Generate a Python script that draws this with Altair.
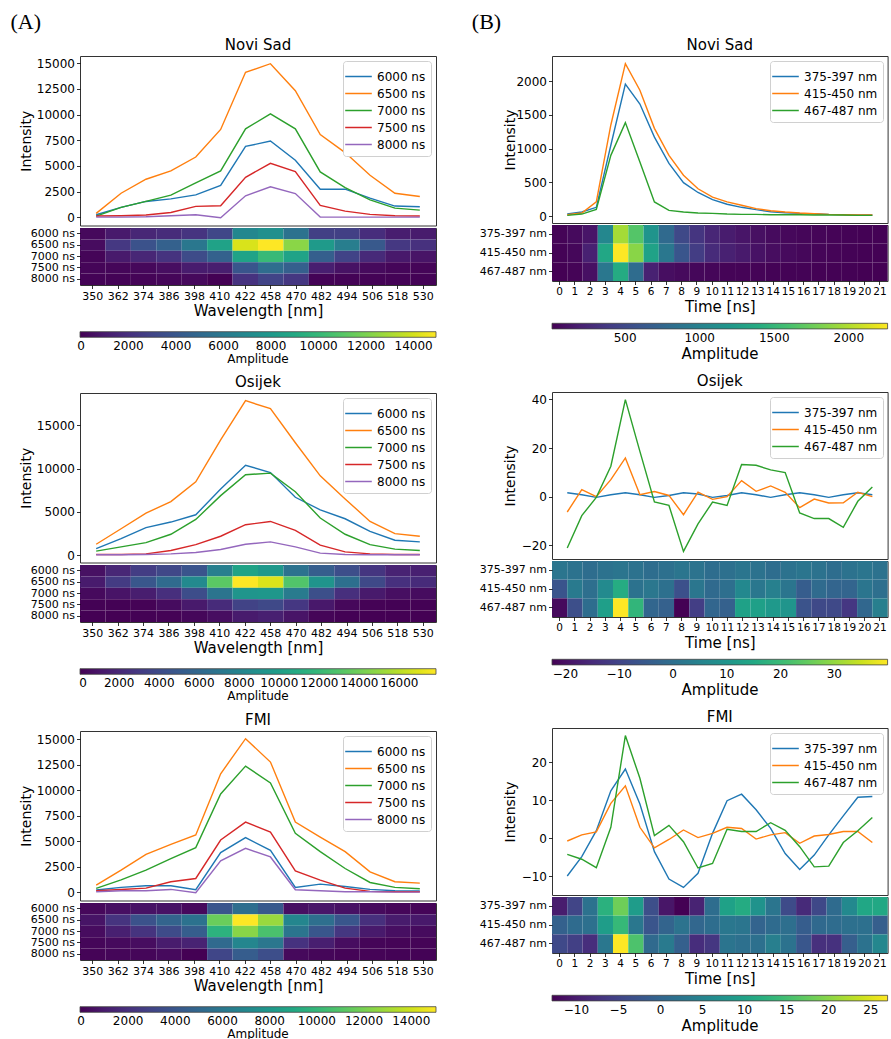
import altair as alt
import pandas as pd

# ---- axis categories -------------------------------------------------------
wavelengths = ["350", "362", "374", "386", "398", "410", "422",
               "458", "470", "482", "494", "506", "518", "530"]
delays = ["6000 ns", "6500 ns", "7000 ns", "7500 ns", "8000 ns"]
bands = ["375-397 nm", "415-450 nm", "467-487 nm"]
times = [str(t) for t in range(22)]

# ---- spectra (intensity vs wavelength) for each gate delay ----------------
novi_sad_spectra = {
    "6000 ns": [260, 970, 1550, 1800, 2190, 3100, 6900, 7420, 5550, 2740, 2740, 1870, 1100, 1030],
    "6500 ns": [390, 2350, 3710, 4520, 5870, 8550, 14100, 14940, 12320, 8060, 6300, 4100, 2350, 2030],
    "7000 ns": [130, 970, 1550, 2160, 3360, 4520, 8610, 10070, 8610, 4420, 2900, 1710, 900, 710],
    "7500 ns": [130, 160, 230, 480, 1070, 1130, 3900, 5260, 4450, 1160, 610, 290, 160, 130],
    "8000 ns": [30, 30, 60, 160, 260, -40, 2100, 2970, 2320, 30, 30, 30, 30, 30],
}
osijek_spectra = {
    "6000 ns": [760, 1910, 3170, 3820, 4660, 7630, 10380, 9540, 6680, 5230, 4200, 2750, 1720, 1530],
    "6500 ns": [1260, 3050, 4850, 6180, 8470, 13300, 17830, 16910, 12980, 9160, 6490, 3890, 2480, 2180],
    "7000 ns": [460, 950, 1450, 2410, 4120, 6870, 9280, 9470, 7330, 4280, 2410, 1220, 690, 530],
    "7500 ns": [80, 80, 150, 530, 1220, 2180, 3510, 3890, 2860, 1150, 380, 150, 80, 80],
    "8000 ns": [40, 40, 80, 150, 310, 650, 1260, 1530, 950, 230, 80, 40, 40, 40],
}
fmi_spectra = {
    "6000 ns": [230, 490, 650, 650, 260, 3900, 5360, 4120, 490, 810, 580, 290, 160, 130],
    "6500 ns": [710, 2180, 3730, 4710, 5620, 11620, 15050, 12760, 6880, 5420, 3990, 2010, 1040, 910],
    "7000 ns": [390, 1230, 2180, 3310, 4380, 9640, 12370, 10720, 5780, 3990, 2340, 970, 490, 360],
    "7500 ns": [160, 290, 420, 1040, 1360, 5130, 6880, 5910, 2110, 1200, 420, 100, 60, 60],
    "8000 ns": [60, 160, 160, 290, -40, 3090, 4320, 3470, 260, 160, 60, 60, 30, 30],
}

# ---- time traces (intensity vs time) for each wavelength band -------------
novi_sad_traces = {
    "375-397 nm": [30, 60, 130, 1050, 1955, 1660, 1170, 780, 495, 350, 245, 175, 130, 95, 65, 50, 40, 35, 25, 20, 15, 15],
    "415-450 nm": [20, 45, 210, 1350, 2260, 1865, 1300, 900, 605, 405, 280, 210, 160, 110, 80, 60, 45, 35, 25, 20, 15, 15],
    "467-487 nm": [10, 30, 100, 900, 1385, 800, 210, 85, 60, 45, 40, 30, 25, 25, 20, 20, 20, 15, 15, 15, 10, 10],
}
osijek_traces = {
    "375-397 nm": [1.6, 0.8, -0.3, 0.8, 1.6, 0.8, -0.3, 0.5, 1.6, 1.1, -0.3, 0.5, 1.6, 0.8, -0.3, 0.8, 1.6, 0.8, -0.3, 0.8, 1.6, 0.8],
    "415-450 nm": [-6.3, 2.9, 0.0, 7.0, 15.9, 0.8, 2.1, 0.5, -7.4, 1.9, -1.1, 0.0, 6.6, 2.2, 4.4, 1.8, -4.5, -1.0, -2.6, -2.5, 1.8, 0.0],
    "467-487 nm": [-21.1, -7.8, -0.3, 12.5, 39.9, 18.6, -2.2, -3.6, -22.5, -11.2, -2.2, -3.6, 13.2, 12.9, 11.0, 9.9, -6.7, -9.0, -9.0, -12.6, -1.9, 4.0],
}
fmi_traces = {
    "375-397 nm": [-9.9, -4.8, 2.0, 12.5, 18.2, 9.0, -3.5, -10.7, -12.9, -9.2, 1.3, 9.9, 11.6, 7.5, 2.6, -4.0, -8.2, -4.4, 0.9, 5.9, 10.8, 11.0],
    "415-450 nm": [-0.7, 0.9, 1.7, 9.2, 13.8, 2.9, -2.5, -0.3, 2.2, 0.2, 1.3, 2.9, 2.6, -0.2, 0.9, 1.5, -1.3, 0.6, 1.0, 1.8, 1.8, -1.1],
    "467-487 nm": [-4.2, -5.5, -7.7, 2.9, 27.0, 15.8, 0.7, 3.4, -0.9, -7.8, -6.6, 2.4, 1.8, 1.8, 4.1, 2.1, -2.2, -7.5, -7.3, -1.1, 2.0, 5.5],
}

# ---- tick values ------------------------------------------------------------
spectra_y_ticks = {
    "Novi Sad": list(range(0, 15001, 2500)),
    "Osijek": [0, 5000, 10000, 15000],
    "FMI": list(range(0, 15001, 2500)),
}
spectra_cbar_ticks = {
    "Novi Sad": list(range(0, 14001, 2000)),
    "Osijek": list(range(0, 16001, 2000)),
    "FMI": list(range(0, 14001, 2000)),
}
traces_y_ticks = {
    "Novi Sad": [0, 500, 1000, 1500, 2000],
    "Osijek": [-20, 0, 20, 40],
    "FMI": [-10, 0, 10, 20],
}
traces_cbar_ticks = {
    "Novi Sad": [500, 1000, 1500, 2000],
    "Osijek": [-20, -10, 0, 10, 20, 30],
    "FMI": [-10, -5, 0, 5, 10, 15, 20, 25],
}

TAB10 = ["#1f77b4", "#ff7f0e", "#2ca02c", "#d62728", "#9467bd"]
FONT = "DejaVu Sans"
INDEPENDENT = dict(x="independent", y="independent", color="independent")
# long, flat legend handle (unit path, scaled by the symbol size)
HANDLE = "M-1.4,0H1.4"


def panel(title, series, xlabels, xtitle, width, line_h, heat_h, y_ticks,
          cbar_ticks, x_label_size, cbar_title_size, title_x, cbar_gap, cbar_title_pad):
    names = list(series.keys())
    rows = []
    for name in names:
        for i, (lab, v) in enumerate(zip(xlabels, series[name])):
            rows.append({"idx": i, "label": lab, "series": name, "value": v})
    df = pd.DataFrame(rows)

    vmin, vmax = df["value"].min(), df["value"].max()
    pad = 0.05 * (vmax - vmin)
    n = len(xlabels)

    line = alt.Chart(df, title=alt.Title(title, fontSize=15, offset=3)).mark_line(
        strokeWidth=1.4
    ).encode(
        x=alt.X("idx:Q", axis=None,
                scale=alt.Scale(domain=[-0.05 * (n - 1), 1.05 * (n - 1)], nice=False, zero=False)),
        y=alt.Y("value:Q", title="Intensity",
                scale=alt.Scale(domain=[vmin - pad, vmax + pad], nice=False, zero=False),
                axis=alt.Axis(values=y_ticks, format="d", labelFontSize=12, titleFontSize=14,
                              titleX=title_x)),
        color=alt.Color("series:N",
                        scale=alt.Scale(domain=names, range=TAB10[:len(names)]),
                        legend=alt.Legend(orient="top-right", offset=5, title=None,
                                          symbolType=HANDLE, symbolSize=361,
                                          symbolStrokeWidth=1.5, labelFontSize=12,
                                          labelOffset=8, padding=5, rowPadding=0,
                                          strokeColor="#d0d0d0", fillColor="white",
                                          cornerRadius=3, labelColor="black")),
    ).properties(width=width, height=line_h)

    heat = alt.Chart(df).mark_rect().encode(
        x=alt.X("label:O", sort=xlabels, title=xtitle,
                scale=alt.Scale(paddingInner=0, paddingOuter=0),
                axis=alt.Axis(labelAngle=0, labelFontSize=x_label_size, titleFontSize=15,
                              labelOverlap=False, labelPadding=2, titlePadding=2)),
        y=alt.Y("series:O", sort=names, title=None,
                scale=alt.Scale(paddingInner=0, paddingOuter=0),
                axis=alt.Axis(labelFontSize=11, labelPadding=2)),
        color=alt.Color("value:Q",
                        scale=alt.Scale(scheme="viridis", domain=[vmin, vmax], nice=False, zero=False),
                        legend=alt.Legend(orient="none", legendX=0, legendY=heat_h + cbar_gap,
                                          direction="horizontal", gradientLength=width,
                                          gradientThickness=5.6, values=cbar_ticks, format="d",
                                          labelAlign="center", labelOverlap=False,
                                          labelFontSize=12, labelOffset=4, labelColor="black",
                                          title="Amplitude", titleOrient="bottom",
                                          titleAnchor="middle", titleFontSize=cbar_title_size,
                                          titleFontWeight="normal", titlePadding=cbar_title_pad,
                                          titleColor="black",
                                          gradientStrokeColor="#444", gradientStrokeWidth=0.8)),
    ).properties(width=width, height=heat_h)

    return alt.vconcat(line, heat, spacing=0).resolve_scale(**INDEPENDENT).resolve_legend(
        color="independent")


LW, LLH, LHH = 356, 169.5, 57
RW, RLH, RHH = 335.6, 167, 56

left_panels = [panel(name, data, wavelengths, "Wavelength [nm]", LW, LLH, LHH,
                     spectra_y_ticks[name], spectra_cbar_ticks[name], 11, 12, -47, 46.7, 1)
               for name, data in [("Novi Sad", novi_sad_spectra), ("Osijek", osijek_spectra),
                                  ("FMI", fmi_spectra)]]
right_panels = [panel(name, data, times, "Time [ns]", RW, RLH, RHH,
                      traces_y_ticks[name], traces_cbar_ticks[name], 10.5, 15, -35, 42.3, 3)
                for name, data in [("Novi Sad", novi_sad_traces), ("Osijek", osijek_traces),
                                   ("FMI", fmi_traces)]]

left_top = alt.vconcat(left_panels[0], left_panels[1], spacing=8).resolve_scale(
    **INDEPENDENT).resolve_legend(color="independent")
left = alt.vconcat(
    left_top, left_panels[2], spacing=9,
    title=alt.Title("(A)", anchor="start", font="Liberation Serif", fontSize=22,
                    fontWeight="normal", dx=-8, offset=4),
).resolve_scale(**INDEPENDENT).resolve_legend(color="independent")

right = alt.vconcat(
    *right_panels, spacing=10,
    title=alt.Title("(B)", anchor="start", font="Liberation Serif", fontSize=22,
                    fontWeight="normal", dx=-7, offset=4),
).resolve_scale(**INDEPENDENT).resolve_legend(color="independent")

chart = alt.hconcat(left, right, spacing=33).resolve_scale(**INDEPENDENT).resolve_legend(
    color="independent"
).properties(
    padding={"left": 10, "top": 10, "right": 0, "bottom": 0}
).configure(font=FONT).configure_view(
    stroke="#333", strokeWidth=1
).configure_axis(
    domain=False, grid=False, tickColor="black", tickSize=3.5, tickWidth=0.8,
    labelColor="black", titleColor="black", titleFontWeight="normal", labelFont=FONT,
    titleFont=FONT
).configure_legend(
    gradientHorizontalMaxLength=400, labelFont=FONT, titleFont=FONT
).configure_title(
    font=FONT, fontWeight="normal", color="black"
)

chart.save("out.html", embed_options={"renderer": "svg", "actions": False})
